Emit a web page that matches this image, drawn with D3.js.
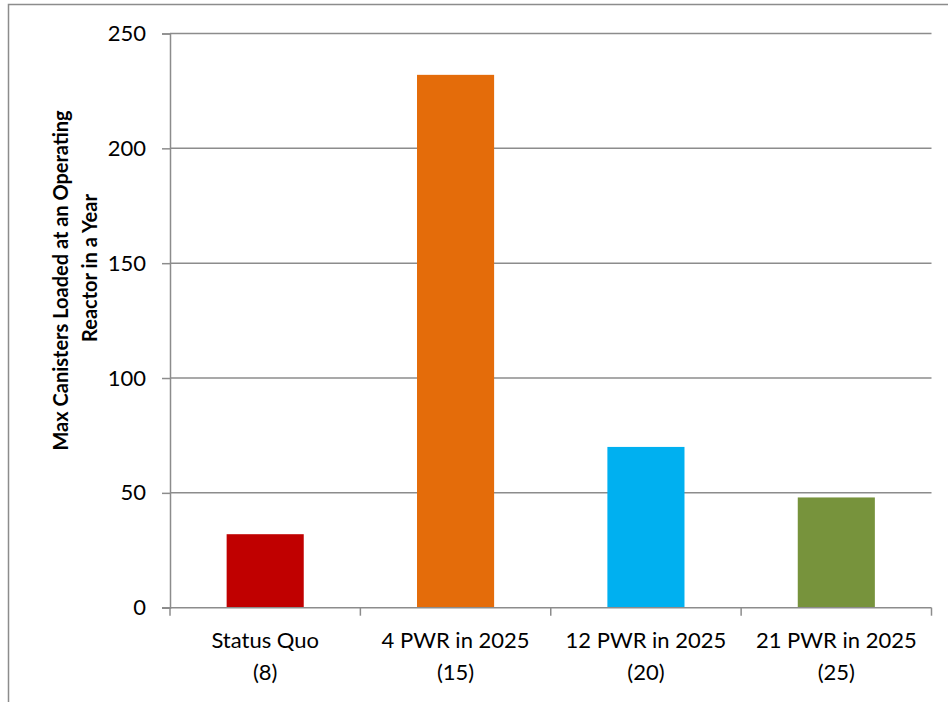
<!DOCTYPE html>
<html>
<head>
<meta charset="utf-8">
<script src="https://cdn.jsdelivr.net/npm/d3@7"></script>
<style>
  html, body { margin: 0; padding: 0; background: #fff; }
  svg { display: block; }
  text { font-family: Lato, "Open Sans", sans-serif; fill: #000; }
</style>
</head>
<body>
<svg id="chart" width="948" height="702"></svg>
<script>
// Scenario categories (label line 1, line 2) and the maximum canisters loaded
const categories = ["Status Quo", "4 PWR in 2025", "12 PWR in 2025", "21 PWR in 2025"];
const subLabels = ["(8)", "(15)", "(20)", "(25)"];
const maxCanisters = [32, 232, 70, 48];
const barColors = ["#C00000", "#E46C0A", "#00B0F0", "#77933C"];
const yTicks = [0, 50, 100, 150, 200, 250];
const yTitle = ["Max Canisters Loaded at an Operating", "Reactor in a Year"];

const svg = d3.select("#chart");
const plot = { left: 170, right: 931.5, top: 33.5, bottom: 607.7 };
const axisColor = "#8c8c8c";

// outer chart frame
svg.append("rect")
  .attr("x", 8.5).attr("y", 4.5)
  .attr("width", 1000).attr("height", 1000)
  .attr("fill", "none").attr("stroke", axisColor).attr("stroke-width", 1.5);

const x = d3.scaleBand().domain(categories).range([plot.left, plot.right]).paddingInner(0.595).paddingOuter(0.2975);
const xEdges = d3.scaleBand().domain(categories).range([plot.left, plot.right]).padding(0);
const y = d3.scaleLinear().domain([0, 250]).range([plot.bottom, plot.top]);

// horizontal gridlines
svg.append("g").selectAll("line").data(yTicks.filter(d => d > 0)).join("line")
  .attr("x1", plot.left).attr("x2", plot.right)
  .attr("y1", d => y(d)).attr("y2", d => y(d))
  .attr("stroke", axisColor).attr("stroke-width", 1.5);

// y axis
const yAxis = svg.append("g").attr("transform", `translate(${plot.left},0)`)
  .call(d3.axisLeft(y).tickValues(yTicks).tickSize(8).tickPadding(16).tickFormat(d3.format("d")));
yAxis.select(".domain").attr("stroke", axisColor).attr("stroke-width", 1.5);
yAxis.selectAll(".tick line").attr("stroke", axisColor).attr("stroke-width", 1.5);
yAxis.selectAll(".tick text").attr("font-size", 22).attr("font-family", "Lato, sans-serif").attr("fill", "#000");

// bars
svg.append("g").selectAll("rect").data(maxCanisters).join("rect")
  .attr("x", (d, i) => x(categories[i]))
  .attr("width", x.bandwidth())
  .attr("y", d => y(d))
  .attr("height", d => y(0) - y(d))
  .attr("fill", (d, i) => barColors[i]);

// x axis with ticks at category boundaries
const boundaries = categories.map(c => xEdges(c)).concat([plot.right]);
svg.append("line")
  .attr("x1", plot.left - 8).attr("x2", plot.right)
  .attr("y1", plot.bottom).attr("y2", plot.bottom)
  .attr("stroke", axisColor).attr("stroke-width", 1.5);
svg.append("g").selectAll("line").data(boundaries).join("line")
  .attr("x1", d => d).attr("x2", d => d)
  .attr("y1", plot.bottom).attr("y2", plot.bottom + 8)
  .attr("stroke", axisColor).attr("stroke-width", 1.5);

// category labels
const labels = svg.append("g").selectAll("text").data(categories).join("text")
  .attr("text-anchor", "middle").attr("font-size", 22)
  .attr("x", d => xEdges(d) + xEdges.bandwidth() / 2);
labels.append("tspan").attr("y", 648).attr("x", d => xEdges(d) + xEdges.bandwidth() / 2).text(d => d);
labels.append("tspan").attr("y", 680).attr("x", d => xEdges(d) + xEdges.bandwidth() / 2).text((d, i) => subLabels[i]);

// y axis title, two lines
const titlePos = [[68, 280.5], [97, 268]];
svg.append("g").selectAll("text").data(yTitle).join("text")
  .attr("transform", (d, i) => `translate(${titlePos[i][0]},${titlePos[i][1]}) rotate(-90)`)
  .attr("text-anchor", "middle").attr("font-size", 20).attr("font-weight", "bold")
  .text(d => d);
</script>
</body>
</html>
